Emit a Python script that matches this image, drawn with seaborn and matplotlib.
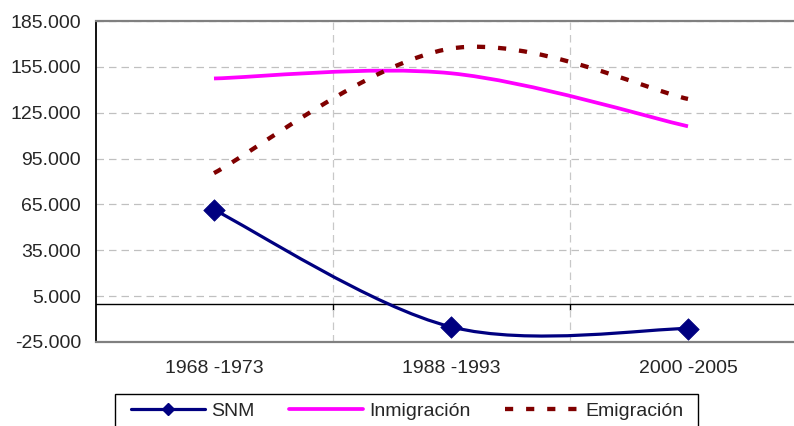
import numpy as np
import pandas as pd
import matplotlib
matplotlib.use('Agg')
import matplotlib.pyplot as plt
import seaborn as sns
from matplotlib.path import Path
from matplotlib.patches import PathPatch, Rectangle
from matplotlib.lines import Line2D

# data
periods = ['1968 -1973', '1988 -1993', '2000 -2005']
snm = [61500, -15100, -16200]
inmigracion = [147400, 150800, 116100]
emigracion = [85500, 167000, 134000]
y_ticks = list(range(-25000, 185001, 30000))

NAVY = '#000080'
PINK = '#FF00FF'
MAROON = '#800000'


def smooth_path(xs, ys):
    # Excel style smoothed line: cubic bezier through the points
    pts = np.column_stack([xs, ys]).astype(float)
    n = len(pts)
    verts = [pts[0]]
    codes = [Path.MOVETO]
    for i in range(n - 1):
        prev = pts[max(i - 1, 0)]
        nxt = pts[min(i + 2, n - 1)]
        verts += [pts[i] + (pts[i + 1] - prev) / 6,
                  pts[i + 1] - (nxt - pts[i]) / 6,
                  pts[i + 1]]
        codes += [Path.CURVE4] * 3
    return Path(verts, codes)


sns.set_style('white')
plt.rcParams['font.family'] = ['Liberation Sans', 'DejaVu Sans']

W, H = 794, 426
fig = plt.figure(figsize=(W / 100, H / 100), dpi=100)
ax = fig.add_axes([95.5 / W, 84 / H, 711 / W, 321 / H])

x = np.arange(len(periods))

ax.add_patch(PathPatch(smooth_path(x, inmigracion), fill=False, edgecolor=PINK,
                       lw=2.7, capstyle='butt', zorder=3))
ax.add_patch(PathPatch(smooth_path(x, emigracion), fill=False, edgecolor=MAROON,
                       lw=3.1, linestyle=(0, (1.9, 3.0)), capstyle='butt', zorder=3))
ax.add_patch(PathPatch(smooth_path(x, snm), fill=False, edgecolor=NAVY,
                       lw=2.3, zorder=4))

df = pd.DataFrame({'x': x, 'SNM': snm})
sns.scatterplot(data=df, x='x', y='SNM', marker='D', s=120, color=NAVY,
                edgecolor=NAVY, linewidth=0.5, zorder=5, ax=ax, legend=False)

ax.set_xlim(-0.5, 2.5)
ax.set_ylim(-25000, 185000)
ax.set_yticks(y_ticks)
ax.set_yticklabels([f'{v:,}'.replace(',', '.') for v in y_ticks])
ax.set_xticks(x)
ax.set_xticklabels(periods)
ax.set_xticks([0.5, 1.5], minor=True)
ax.set_xlabel('')
ax.set_ylabel('')

ax.grid(axis='y', which='major', color='#c0c0c0', linestyle=(0, (6, 4)), lw=0.9)
ax.grid(axis='x', which='minor', color='#c8c8c8', linestyle=(0, (6, 4)), lw=0.9)
ax.grid(axis='x', which='major', visible=False)

ax.tick_params(axis='y', which='major', direction='out', length=4.5, width=1,
               color='black', labelsize=14, pad=6)
ax.tick_params(axis='x', which='both', length=0, labelsize=14, pad=13)

for side in ['top', 'bottom']:
    ax.spines[side].set_color('#808080')
    ax.spines[side].set_linewidth(1.6)
ax.spines['left'].set_color('black')
ax.spines['left'].set_linewidth(1.3)
ax.spines['right'].set_visible(False)

# category axis crossing at zero
ax.axhline(0, color='black', lw=1.0, zorder=2)
sec = ax.secondary_xaxis(25000 / 210000)
sec.set_xticks([0.5, 1.5])
sec.set_xticklabels(['', ''])
sec.tick_params(length=4, width=1, color='black', direction='out')
sec.spines['bottom'].set_visible(False)

# legend box (runs off the bottom of the image like the original)
fig.patches.append(Rectangle((115 / W, -10 / H), 583 / W, (426 - 394 + 10) / H,
                             transform=fig.transFigure, fill=False,
                             edgecolor='black', lw=1.0))
handles = [
    Line2D([], [], color=NAVY, lw=2.3, marker='D', markersize=6),
    Line2D([], [], color=PINK, lw=2.7),
    Line2D([], [], color=MAROON, lw=3.1, linestyle=(0, (1.9, 3.0))),
]
fig.legend(handles, ['SNM', 'Inmigración', 'Emigración'], ncol=3,
           loc='center left', bbox_to_anchor=(131 / W, 1 - 411 / H),
           fontsize=14, frameon=False, handlelength=3.8,
           handletextpad=0.3, columnspacing=1.8, borderpad=0,
           borderaxespad=0)

fig.savefig('out.png', dpi=100)
